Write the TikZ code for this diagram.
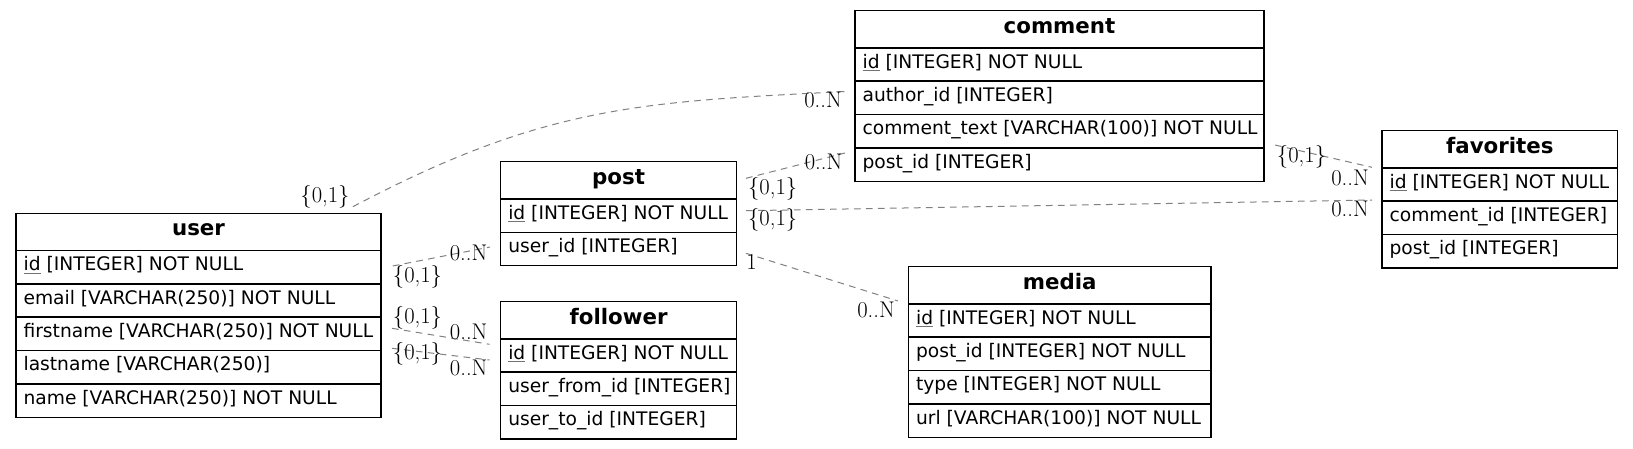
\documentclass[tikz,border=0pt]{standalone}
\usepackage{fontspec}
\newfontfamily\tabfont{DejaVu Sans}
\usetikzlibrary{fit}
\newcommand\ulid[1]{{\color{black!55}\underline{\color{black}#1}}}
\newcommand\ertab[6]{%
  \coordinate (#1-nw) at (#2,#3);
  \node[ttitle] (#1-t) at ({(#2+#4)/2},{#3+22.6}) {#5};
  \foreach \rowtext [count=\i] in {#6} {
    \node[trow] (#1-r\i) at ({#2+7.3},{#3+37.3+33.3*(\i-1)+20.3}) {\rowtext};
    \draw[tsep] (#2,{#3+37.3+33.3*(\i-1)}) -- (#4,{#3+37.3+33.3*(\i-1)});
    \xdef\nrows{\i}
  }
  \coordinate (#1-se) at (#4,{#3+37.3+33.3*\nrows});
  \node[tframe, fit=(#1-nw)(#1-se)] (#1) {};
}
\begin{document}
\begin{tikzpicture}[x=0.75pt,y=-0.75pt,
  tframe/.style={draw=black, line width=0.9pt, inner sep=0pt},
  tsep/.style={draw=black, line width=1.3pt},
  ttitle/.style={anchor=base, inner sep=0pt, font=\tabfont\bfseries\fontsize{16}{18}\selectfont},
  trow/.style={anchor=base west, inner sep=0pt, font=\tabfont\fontsize{14}{16}\selectfont},
  rel/.style={draw=black!50, line width=0.75pt, dash pattern=on 5pt off 4pt},
  lab/.style={inner sep=0pt, font=\fontsize{17}{20}\selectfont}]
\useasboundingbox (0,0) rectangle (1633,449);

\ertab{user}{16}{213.3}{381}{user}{{\ulid{id} [INTEGER] NOT NULL},{email [VARCHAR(250)] NOT NULL},{firstname [VARCHAR(250)] NOT NULL},{lastname [VARCHAR(250)]},{name [VARCHAR(250)] NOT NULL}}
\ertab{post}{500.7}{161.8}{736.5}{post}{{\ulid{id} [INTEGER] NOT NULL},{user\_id [INTEGER]}}
\ertab{follower}{500.7}{301.7}{736.5}{follower}{{\ulid{id} [INTEGER] NOT NULL},{user\_from\_id [INTEGER]},{user\_to\_id [INTEGER]}}
\ertab{comment}{855}{10.7}{1264}{comment}{{\ulid{id} [INTEGER] NOT NULL},{author\_id [INTEGER]},{comment\_text [VARCHAR(100)] NOT NULL},{post\_id [INTEGER]}}
\ertab{media}{908.5}{266.7}{1211}{media}{{\ulid{id} [INTEGER] NOT NULL},{post\_id [INTEGER] NOT NULL},{type [INTEGER] NOT NULL},{url [VARCHAR(100)] NOT NULL}}
\ertab{favorites}{1382}{130.7}{1617.7}{favorites}{{\ulid{id} [INTEGER] NOT NULL},{comment\_id [INTEGER]},{post\_id [INTEGER]}}

% connector end points
\coordinate (e1s) at (352.9,206.7); \coordinate (e1e) at (845,91.5);
\coordinate (e2s) at (392.7,266);   \coordinate (e2e) at (490,247);
\coordinate (e3s) at (392,328.3);   \coordinate (e3e) at (489.5,344.3);
\coordinate (e4s) at (392,348.3);   \coordinate (e4e) at (489.5,360);
\coordinate (e5s) at (746,178.3);   \coordinate (e5e) at (845,153);
\coordinate (e6s) at (746,210.7);   \coordinate (e6e) at (1372,200);
\coordinate (e7s) at (746,253.3);   \coordinate (e7e) at (898,301);
\coordinate (e8s) at (1275,145);    \coordinate (e8e) at (1372,167.3);

\draw[rel] (e1s) .. controls (547,104) and (645,102) .. (e1e);
\draw[rel] (e2s) -- (e2e);
\draw[rel] (e3s) -- (e3e);
\draw[rel] (e4s) -- (e4e);
\draw[rel] (e5s) -- (e5e);
\draw[rel] (e6s) -- (e6e);
\draw[rel] (e7s) -- (e7e);
\draw[rel] (e8s) -- (e8e);

% labels
\node[lab] (l1a) at (325,196.7) {\{0,1\}};
\node[lab] (l1b) at (823,100) {0..N};
\node[lab] (l2a) at (417.5,276.7) {\{0,1\}};
\node[lab] (l2b) at (468.5,252.7) {0..N};
\node[lab] (l3a) at (417.5,318.3) {\{0,1\}};
\node[lab] (l3b) at (468.7,331.7) {0..N};
\node[lab] (l4a) at (417.5,354) {\{0,1\}};
\node[lab] (l4b) at (468.7,368.3) {0..N};
\node[lab] (l5a) at (772.7,189) {\{0,1\}};
\node[lab] (l5b) at (823.5,161.7) {0..N};
\node[lab] (l6a) at (772.7,220) {\{0,1\}};
\node[lab] (l6b) at (1350,209.3) {0..N};
\node[lab] (l7a) at (751.5,261.7) {1};
\node[lab] (l7b) at (876,310) {0..N};
\node[lab] (l8a) at (1301.5,156.7) {\{0,1\}};
\node[lab] (l8b) at (1350,178.3) {0..N};
\end{tikzpicture}
\end{document}
